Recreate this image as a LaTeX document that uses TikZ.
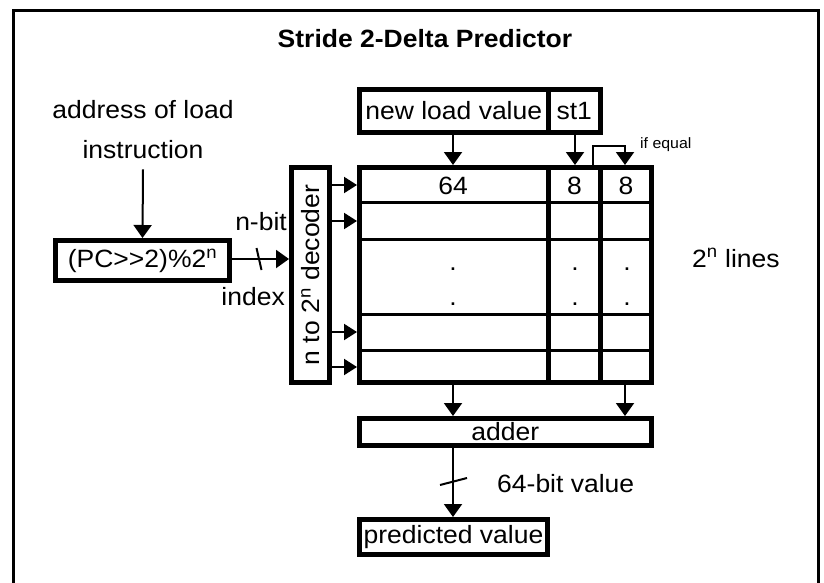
\documentclass[tikz,border=0pt]{standalone}
\usepackage{fontspec}
\setmainfont{Liberation Sans}[FakeStretch=1.06]
\usetikzlibrary{arrows.meta,calc}

\begin{document}
\begin{tikzpicture}[x=1pt,y=-1pt,
  font=\fontsize{25}{30}\selectfont,
  box/.style={draw,line width=5pt,rectangle,inner sep=0pt},
  wire/.style={line width=2pt},
  arr/.style={wire,-{Triangle[length=13pt,width=18pt]}},
  sarr/.style={wire,-{Triangle[length=13pt,width=16pt]}},
  lbl/.style={inner sep=0pt,anchor=base},
  colline/.style={line width=5pt},
  rowline/.style={line width=3pt},
]
\useasboundingbox (0,0) rectangle (824,583);

% outer frame
\draw[line width=3pt] (13.5,583) -- (13.5,11) -- (818.5,11) -- (818.5,583);

% title
\node[lbl,font=\fontsize{25}{30}\selectfont\bfseries] (title) at (425,48) {Stride 2-Delta Predictor};

% load address input
\node[lbl] (addr) at (143,119) {address of load};
\node[lbl,inner ysep=11pt] (instr) at (143,158) {instruction};
\node[box,minimum width=174pt,minimum height=40pt] (pc) at (142.5,260.5) {(PC>{}>2)\%2\textsuperscript{n}};
\draw[arr] (instr.south) -- (pc.north);

% decoder
\node[box,minimum width=38pt,minimum height=215pt] (dec) at (310.5,275) {};
\node[rotate=90,inner sep=0pt] (dectxt) at (dec.center) {n to 2\textsuperscript{n} decoder};
\draw[arr] (pc.east |- 0,259) -- (dec.west |- 0,259);
\coordinate (s1a) at (256.5,248);
\coordinate (s1b) at (261.5,270);
\draw[wire] (s1a) -- (s1b);
\node[lbl,anchor=base east] (nbit) at (287,230) {n-bit};
\node[lbl,anchor=base east] (index) at (285,305) {index};

% new value register
\node[box,minimum width=188.5pt,minimum height=43pt] (nlv) at (453.75,111) {new load value};
\node[box,minimum width=52.5pt,minimum height=43pt] (st) at (574.25,111) {st1};

% prediction table
\node[box,minimum width=291.5pt,minimum height=215pt] (tbl) at (505.25,275) {};
\draw[colline] (548,0 |- tbl.north) -- (548,0 |- tbl.south);
\draw[colline] (600.5,0 |- tbl.north) -- (600.5,0 |- tbl.south);
\foreach \yy in {202,239.5,314.5,350}
  \draw[rowline] (tbl.west |- 0,\yy) -- (tbl.east |- 0,\yy);
\node[lbl] (c64) at (453,194) {64};
\node[lbl] (c8a) at (574.5,194) {8};
\node[lbl] (c8b) at (626,194) {8};
\foreach \yy/\nm in {270/a,305/b}{
  \node[lbl] (d1\nm) at (453,\yy) {.};
  \node[lbl] (d2\nm) at (575,\yy) {.};
  \node[lbl] (d3\nm) at (627,\yy) {.};
}
\node[lbl,anchor=base west] (lines) at (692,267) {2\textsuperscript{n} lines};

% row select lines
\foreach \yy in {185,221,332,367}
  \draw[sarr] (dec.east |- 0,\yy) -- (tbl.west |- 0,\yy);

% writes into the table
\draw[arr] (453,0 |- nlv.south) -- (453,0 |- tbl.north);
\draw[arr] (575,0 |- st.south) -- (575,0 |- tbl.north);
\draw[arr] (593,0 |- tbl.north) -- (593,146) -- (625,146) -- (625,0 |- tbl.north);
\node[lbl,anchor=base west,font=\fontsize{15}{17}\selectfont] (ifeq) at (640,148) {if equal};

% adder and output
\node[box,minimum width=291.5pt,minimum height=27pt] (add) at (505.25,432) {adder};
\draw[arr] (453,0 |- tbl.south) -- (453,0 |- add.north);
\draw[arr] (625,0 |- tbl.south) -- (625,0 |- add.north);

\node[box,minimum width=188pt,minimum height=35pt] (pred) at (453.5,537) {predicted value};
\draw[arr] (453,0 |- add.south) -- (453,0 |- pred.north);
\coordinate (s2a) at (440,485);
\coordinate (s2b) at (467,478);
\draw[wire] (s2a) -- (s2b);
\node[lbl,anchor=base west] (bits) at (497,492) {64-bit value};
\end{tikzpicture}
\end{document}
